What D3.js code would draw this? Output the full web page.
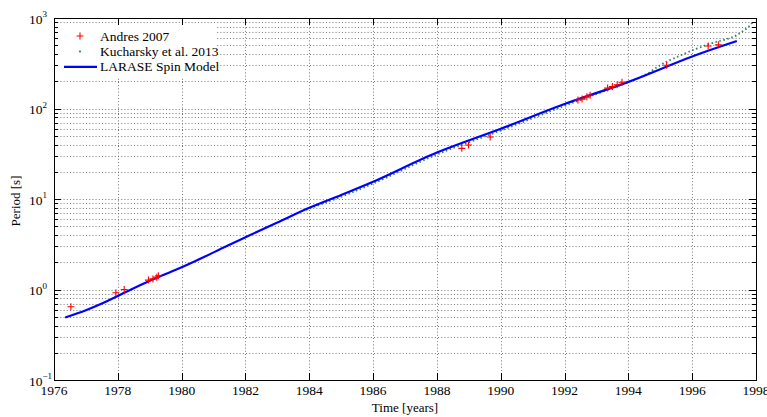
<!DOCTYPE html>
<html>
<head>
<meta charset="utf-8">
<script src="https://cdn.jsdelivr.net/npm/d3@7"></script>
<style>
html,body{margin:0;padding:0;background:#fff;}
svg{display:block;}
</style>
</head>
<body>
<svg id="chart" width="767" height="417" font-family="'Liberation Serif', 'DejaVu Serif', serif"></svg>
<script>
// ---- data ----
const xTicks = [1976,1978,1980,1982,1984,1986,1988,1990,1992,1994,1996,1998];
const yDecades = [-1,0,1,2,3];
const legendLabels = ["Andres 2007","Kucharsky et al. 2013","LARASE Spin Model"];

const andresYears   = [1976.53,1977.94,1978.2,1978.96,1979.1,1979.22,1979.27,1988.78,1988.99,1989.67,1992.42,1992.55,1992.7,1992.8,1993.35,1993.5,1993.65,1993.8,1995.2,1996.5,1996.82];
const andresPeriods = [0.645,0.92,1.0,1.27,1.31,1.37,1.42,36.3,39.5,48.5,124,127,135,140,168,175,183,195,300,490,505];

const kuchYears   = [1983.9,1985,1986,1988,1990,1992,1994,1994.5,1995.1,1996.45,1997.3,1997.56,1997.77,1997.93];
const kuchPeriods = [7.6,10.6,14.8,31,57,107,196,232,315,504,621,706,802,933];

const spinYears   = [1976.35,1977,1977.5,1978,1979,1979.8,1980.35,1981.4,1982.15,1983,1984,1985,1986,1988,1990,1992,1994,1996,1997.4];
const spinPeriods = [0.49,0.59,0.70,0.85,1.25,1.64,2.0,3.0,4.0,5.5,8.0,11.1,15.5,32.6,59.7,112,197,376,557];

// ---- layout ----
const FONT = "'Liberation Serif', 'DejaVu Serif', serif";
const svg = d3.select("#chart");
const L = 54, R = 756, T = 18, B = 380;
const x = d3.scaleLinear().domain([1976,1998]).range([L,R]);
const y = d3.scaleLog().domain([0.1,1000]).range([B,T]);

const g = svg.append("g");

// grid
const minorVals = [];
for (let e = -1; e < 3; e++) for (let m = 1; m <= 9; m++) { const v = m*Math.pow(10,e); if (v>0.1) minorVals.push(v); }
g.append("g").selectAll("line").data(minorVals).join("line")
  .attr("x1",L).attr("x2",R)
  .attr("y1",d=>Math.round(y(d))+0.5).attr("y2",d=>Math.round(y(d))+0.5)
  .attr("stroke","#777").attr("stroke-width",1).attr("stroke-dasharray","1,2.2");
g.append("g").selectAll("line").data(xTicks.slice(1,-1)).join("line")
  .attr("x1",d=>Math.round(x(d))+0.5).attr("x2",d=>Math.round(x(d))+0.5)
  .attr("y1",T).attr("y2",B)
  .attr("stroke","#777").attr("stroke-width",1).attr("stroke-dasharray","1,2.2");

// Kucharsky (dotted)
const line = d3.line().x(d=>x(d[0])).y(d=>y(d[1])).curve(d3.curveCatmullRom.alpha(0.5));
svg.append("clipPath").attr("id","clip").append("rect").attr("x",L).attr("y",T).attr("width",R-L).attr("height",B-T);
g.append("path").datum(kuchYears.map((v,i)=>[v,kuchPeriods[i]]))
  .attr("d",line).attr("fill","none").attr("stroke","#2a8456")
  .attr("stroke-width",1.8).attr("stroke-dasharray","1.5,2.6").attr("clip-path","url(#clip)");

// LARASE spin model
g.append("path").datum(spinYears.map((v,i)=>[v,spinPeriods[i]]))
  .attr("d",line).attr("fill","none").attr("stroke","#0000ff").attr("stroke-width",2.2)
  .attr("stroke-linejoin","round");

// Andres +
const plus = (sel, s) => sel.attr("d", `M${-s},0H${s}M0,${-s}V${s}`);
g.append("g").selectAll("path").data(andresYears.map((v,i)=>[v,andresPeriods[i]])).join("path")
  .attr("transform",d=>`translate(${x(d[0])},${y(d[1])})`)
  .call(plus,3.5).attr("stroke","#ff0000").attr("stroke-width",1.1).attr("fill","none");

// legend
const lg = svg.append("g");
lg.append("rect").attr("x",L+1).attr("y",25).attr("width",217-L-1).attr("height",53).attr("fill","#fff");
const rowY = [36,51.5,66.8];
lg.append("path").attr("transform",`translate(80,${rowY[0]})`).call(plus,3.5)
  .attr("stroke","#ff0000").attr("stroke-width",1.1);
lg.append("circle").attr("cx",80).attr("cy",rowY[1]).attr("r",1.1).attr("fill","#2a8456");
lg.append("line").attr("x1",64).attr("x2",97).attr("y1",rowY[2]).attr("y2",rowY[2])
  .attr("stroke","#0000ff").attr("stroke-width",2.2);
lg.selectAll("text").data(legendLabels).join("text")
  .attr("font-family",FONT)
  .attr("x",100).attr("y",(d,i)=>rowY[i]+4.5).attr("font-size",13.5).text(d=>d);

// frame and ticks
const ax = svg.append("g").attr("stroke","#000").attr("stroke-width",1);
ax.append("rect").attr("x",L+0.5).attr("y",T+0.5).attr("width",R-L).attr("height",B-T).attr("fill","none");
xTicks.forEach(t=>{
  const px = Math.round(x(t))+0.5;
  ax.append("line").attr("x1",px).attr("x2",px).attr("y1",B).attr("y2",B-7);
  ax.append("line").attr("x1",px).attr("x2",px).attr("y1",T).attr("y2",T+7);
});
minorVals.concat([0.1,1000]).forEach(v=>{
  const py = Math.round(y(v))+0.5;
  const isMajor = Math.abs(Math.log10(v)-Math.round(Math.log10(v)))<1e-9;
  const len = isMajor ? 7 : 4;
  ax.append("line").attr("x1",L).attr("x2",L+len).attr("y1",py).attr("y2",py);
  ax.append("line").attr("x1",R).attr("x2",R-len).attr("y1",py).attr("y2",py);
});

// tick labels
svg.append("g").selectAll("text").data(xTicks).join("text")
  .attr("font-family",FONT)
  .attr("x",d=>x(d)).attr("y",395).attr("text-anchor","middle").attr("font-size",13.5).text(d=>d);
const yl = svg.append("g").selectAll("text").data(yDecades).join("text")
  .attr("font-family",FONT)
  .attr("x",29).attr("y",d=>y(Math.pow(10,d))+5.5).attr("font-size",13.5);
yl.append("tspan").text("10");
yl.append("tspan").attr("dy",-6.5).attr("font-size",9).text(d=>d<0?"\u2212"+(-d):d);

// axis titles
svg.append("text").attr("font-family",FONT).attr("x",405).attr("y",412).attr("text-anchor","middle").attr("font-size",13).text("Time [years]");
svg.append("text").attr("font-family",FONT).attr("transform","translate(20,201) rotate(-90)").attr("text-anchor","middle").attr("font-size",13).text("Period [s]");
</script>
</body>
</html>
